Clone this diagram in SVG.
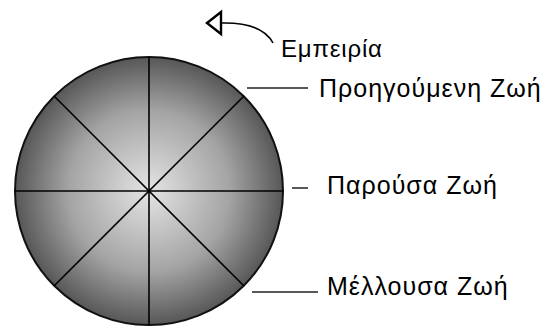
<svg xmlns="http://www.w3.org/2000/svg" width="547" height="328" viewBox="0 0 547 328">
<style>
.lbl{font-family:"Liberation Sans",Arial,sans-serif;font-size:25px;letter-spacing:1px;fill:#000}
.sm{font-size:24px;letter-spacing:0.8px}
.ln{stroke:#000;stroke-width:1.6;fill:none}
.ld{stroke:#222;stroke-width:1.5;fill:none}
</style>
<defs>
<radialGradient id="g" cx="0.5" cy="0.5" r="0.5">
<stop offset="0" stop-color="#e4e4e4"/>
<stop offset="0.6" stop-color="#a4a4a4"/>
<stop offset="1" stop-color="#575757"/>
</radialGradient>
</defs>
<g id="circle">
<circle cx="149" cy="191" r="134" fill="url(#g)" stroke="#111" stroke-width="2"/>
<line class="ln" x1="149" y1="57" x2="149" y2="325"/>
<line class="ln" x1="15" y1="191" x2="283" y2="191"/>
<line class="ln" x1="54" y1="96" x2="244" y2="286"/>
<line class="ln" x1="244" y1="96" x2="54" y2="286"/>
</g>
<g id="connectors">
<path class="ln" d="M221,23 Q262,22 273,43" stroke-width="2"/>
<polygon points="207,23 221,12 221,34" fill="none" stroke="#000" stroke-width="2.4" stroke-linejoin="miter"/>
<line class="ld" x1="247" y1="88" x2="308" y2="88"/>
<line class="ld" x1="292" y1="188" x2="308" y2="188"/>
<line class="ld" x1="252" y1="292" x2="318" y2="292"/>
</g>
<g id="n-empeiria"><text class="lbl sm" x="281" y="57">Εμπειρία</text></g>
<g id="n-proigoumeni"><text class="lbl" x="319" y="97">Προηγούμενη Ζωή</text></g>
<g id="n-parousa"><text class="lbl" x="327" y="194">Παρούσα Ζωή</text></g>
<g id="n-mellousa"><text class="lbl" x="327" y="295">Μέλλουσα Ζωή</text></g>
</svg>
